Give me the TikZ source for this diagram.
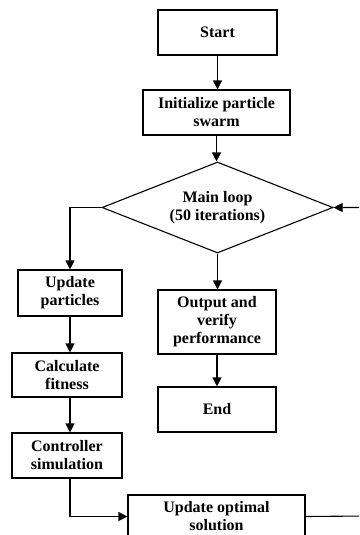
\documentclass[tikz,border=0pt]{standalone}
\usepackage{fontspec}
\setmainfont{Liberation Serif}
\usetikzlibrary{shapes.geometric,arrows.meta,calc}
\begin{document}
\begin{tikzpicture}[x=1pt,y=-1pt,
  every node/.style={font=\bfseries\fontsize{16}{18}\selectfont, align=center, inner sep=0pt},
  box/.style={draw, line width=1.1pt, rectangle},
  dia/.style={draw, line width=1.1pt, diamond, aspect=2.5},
  arr/.style={line width=1.1pt, -{Triangle[length=9pt,width=9pt]}},
  ln/.style={line width=1.1pt}]
\clip (0,0) rectangle (359,535);
\fill[white] (0,0) rectangle (359,535);
\node[box, minimum width=119pt, minimum height=45pt] (start) at (217.5,32.5) {Start};
\node[box, minimum width=147pt, minimum height=45pt] (init) at (216.5,112.5) {Initialize particle\\swarm};
\node[dia, minimum width=231pt, minimum height=91pt] (loop) at (217.5,207.5) {Main loop\\(50 iterations)};
\node[box, minimum width=104pt, minimum height=46pt] (upd) at (70,293) {Update\\particles};
\node[box, minimum width=110pt, minimum height=44pt] (calc) at (67,375) {Calculate\\fitness};
\node[box, minimum width=110pt, minimum height=45pt] (ctrl) at (67,455.5) {Controller\\simulation};
\node[box, minimum width=118pt, minimum height=64pt] (out) at (217,322) {Output and\\verify\\performance};
\node[box, minimum width=118pt, minimum height=45pt] (end) at (217,409.5) {End};
\node[box, minimum width=177pt, minimum height=43pt] (opt) at (216.5,516.5) {Update optimal\\solution};
\coordinate (rt) at (366,516);
\draw[arr] (start.south) -- (start.south |- init.north);
\draw[arr] (init.south) -- (init.south |- loop.north);
\draw[arr] (loop.west) -| (upd.north);
\draw[arr] (upd.south) -- (upd.south |- calc.north);
\draw[arr] (upd.south |- calc.south) -- (upd.south |- ctrl.north);
\draw[arr] (upd.south |- ctrl.south) |- (opt.west);
\draw[arr] (loop.south) -- (loop.south |- out.north);
\draw[arr] (out.south) -- (out.south |- end.north);
\draw[arr] (opt.east) -- (rt) |- (loop.east);
\end{tikzpicture}
\end{document}
